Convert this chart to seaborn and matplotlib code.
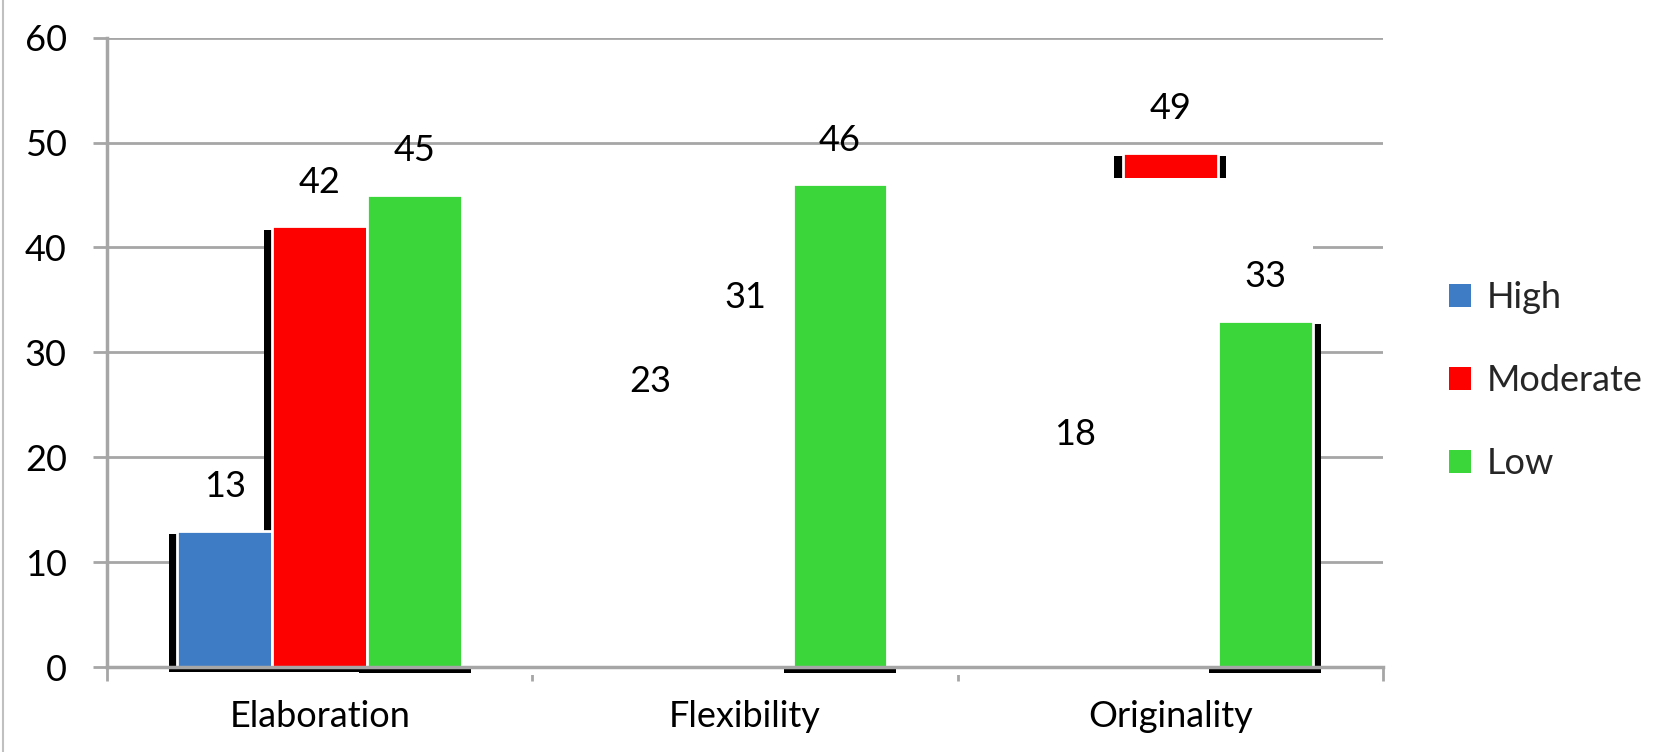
"""
Creativity levels (High / Moderate / Low) per dimension - grouped bars with
the odd 3D-shadow / clipped rendering of the source chart.
"""
import numpy as np
import pandas as pd
import matplotlib
matplotlib.use('Agg')
import matplotlib.pyplot as plt
import seaborn as sns
from matplotlib.patches import Patch, Rectangle
from matplotlib.lines import Line2D

CATEGORIES = ["Elaboration", "Flexibility", "Originality"]
LEVELS = ["High", "Moderate", "Low"]
HIGH = [13, 23, 18]
MODERATE = [42, 31, 49]
LOW = [45, 46, 33]
Y_TICKS = [0, 10, 20, 30, 40, 50, 60]

COLORS = {"High": "#3f7cc6", "Moderate": "#fd0000", "Low": "#3ad63a"}
GRID = "#a6a6a6"
GLITCH_TOP = 46.6   # in the source everything below this is wiped after Elaboration
FS = 26

sns.set_style("white")
plt.rcParams['font.family'] = ['Lato', 'DejaVu Sans']

df = pd.DataFrame({
    'category': CATEGORIES * len(LEVELS),
    'level': np.repeat(LEVELS, len(CATEGORIES)),
    'value': HIGH + MODERATE + LOW,
})

fig = plt.figure(figsize=(16.81, 7.52), dpi=100)
ax = fig.add_axes([0.0637, 0.113, 0.759, 0.837])

sns.barplot(data=df, x='category', y='value', hue='level', order=CATEGORIES,
            hue_order=LEVELS, palette=COLORS, width=0.67, saturation=1,
            edgecolor='white', linewidth=2, errorbar=None, legend=False, ax=ax)

ax.set_xlim(-0.5, 2.5)
ax.set_ylim(0, 60)
ax.set_yticks(Y_TICKS)
ax.set_xlabel('')
ax.set_ylabel('')

# gridlines drawn by hand so the white wipe can sit on top of them
for y in Y_TICKS[1:]:
    ax.axhline(y, color=GRID, lw=2, zorder=0.5)

pad = 0.02
low_bars = []
for level, cont in zip(LEVELS, ax.containers):
    for bar in cont:
        bar.set_zorder(3 if level == 'Low' else 1.5)
        x, w, h = bar.get_x(), bar.get_width(), bar.get_height()
        # black "3D" shadow behind each bar (Low ones only spill to the right)
        left = 0 if level == 'Low' else pad
        ax.add_patch(Rectangle((x - left, -0.5), w + left + pad, h - 0.3 + 0.5,
                               facecolor='black', edgecolor='none',
                               zorder=1, clip_on=False))
        if level == 'Low':
            low_bars.append(bar)
        ax.text(x + w / 2, h + 4.2, f"{h:.0f}", ha='center', va='center',
                fontsize=FS, color='black', zorder=5)

# the white wipe from the original render
x0 = low_bars[0].get_x() + low_bars[0].get_width()
x1 = low_bars[-1].get_x() + low_bars[-1].get_width()
ax.add_patch(Rectangle((x0, -0.8), x1 - x0, GLITCH_TOP + 0.8,
                       facecolor='white', edgecolor='none', zorder=2,
                       clip_on=False))

# shadow lines under the visible bars
for bar in low_bars:
    ax.add_patch(Rectangle((bar.get_x() - pad, -0.55), bar.get_width() + 2 * pad, 0.55,
                           facecolor='black', edgecolor='none', zorder=2.5,
                           clip_on=False))

sns.despine(ax=ax, top=True, right=True)
for side in ['left', 'bottom']:
    ax.spines[side].set_color(GRID)
    ax.spines[side].set_linewidth(2.5)
    ax.spines[side].set_zorder(4)

ax.set_xticks([-0.5, 0.5, 1.5, 2.5], minor=True)
ax.tick_params(axis='x', which='major', length=0, pad=24, labelsize=FS,
               labelcolor='black')
ax.tick_params(axis='x', which='minor', length=10, width=2, color=GRID,
               direction='out', bottom=True)
ax.tick_params(axis='y', which='major', length=10, width=2, color=GRID,
               direction='out', left=True, pad=19, labelsize=FS,
               labelcolor='black')

handles = [Patch(facecolor=COLORS[l], edgecolor='none') for l in LEVELS]
ax.legend(handles, LEVELS, loc='center left', bbox_to_anchor=(0.862, 0.494),
          bbox_transform=fig.transFigure, frameon=False, fontsize=FS,
          handlelength=0.6, handleheight=0.6, handletextpad=0.45,
          labelspacing=1.38, borderpad=0, borderaxespad=0)

fig.add_artist(Line2D([0.0015, 0.0015], [0, 1], transform=fig.transFigure,
                      color='#c0c0c0', lw=1.5))

plt.savefig('out.png', dpi=100)
plt.close()
